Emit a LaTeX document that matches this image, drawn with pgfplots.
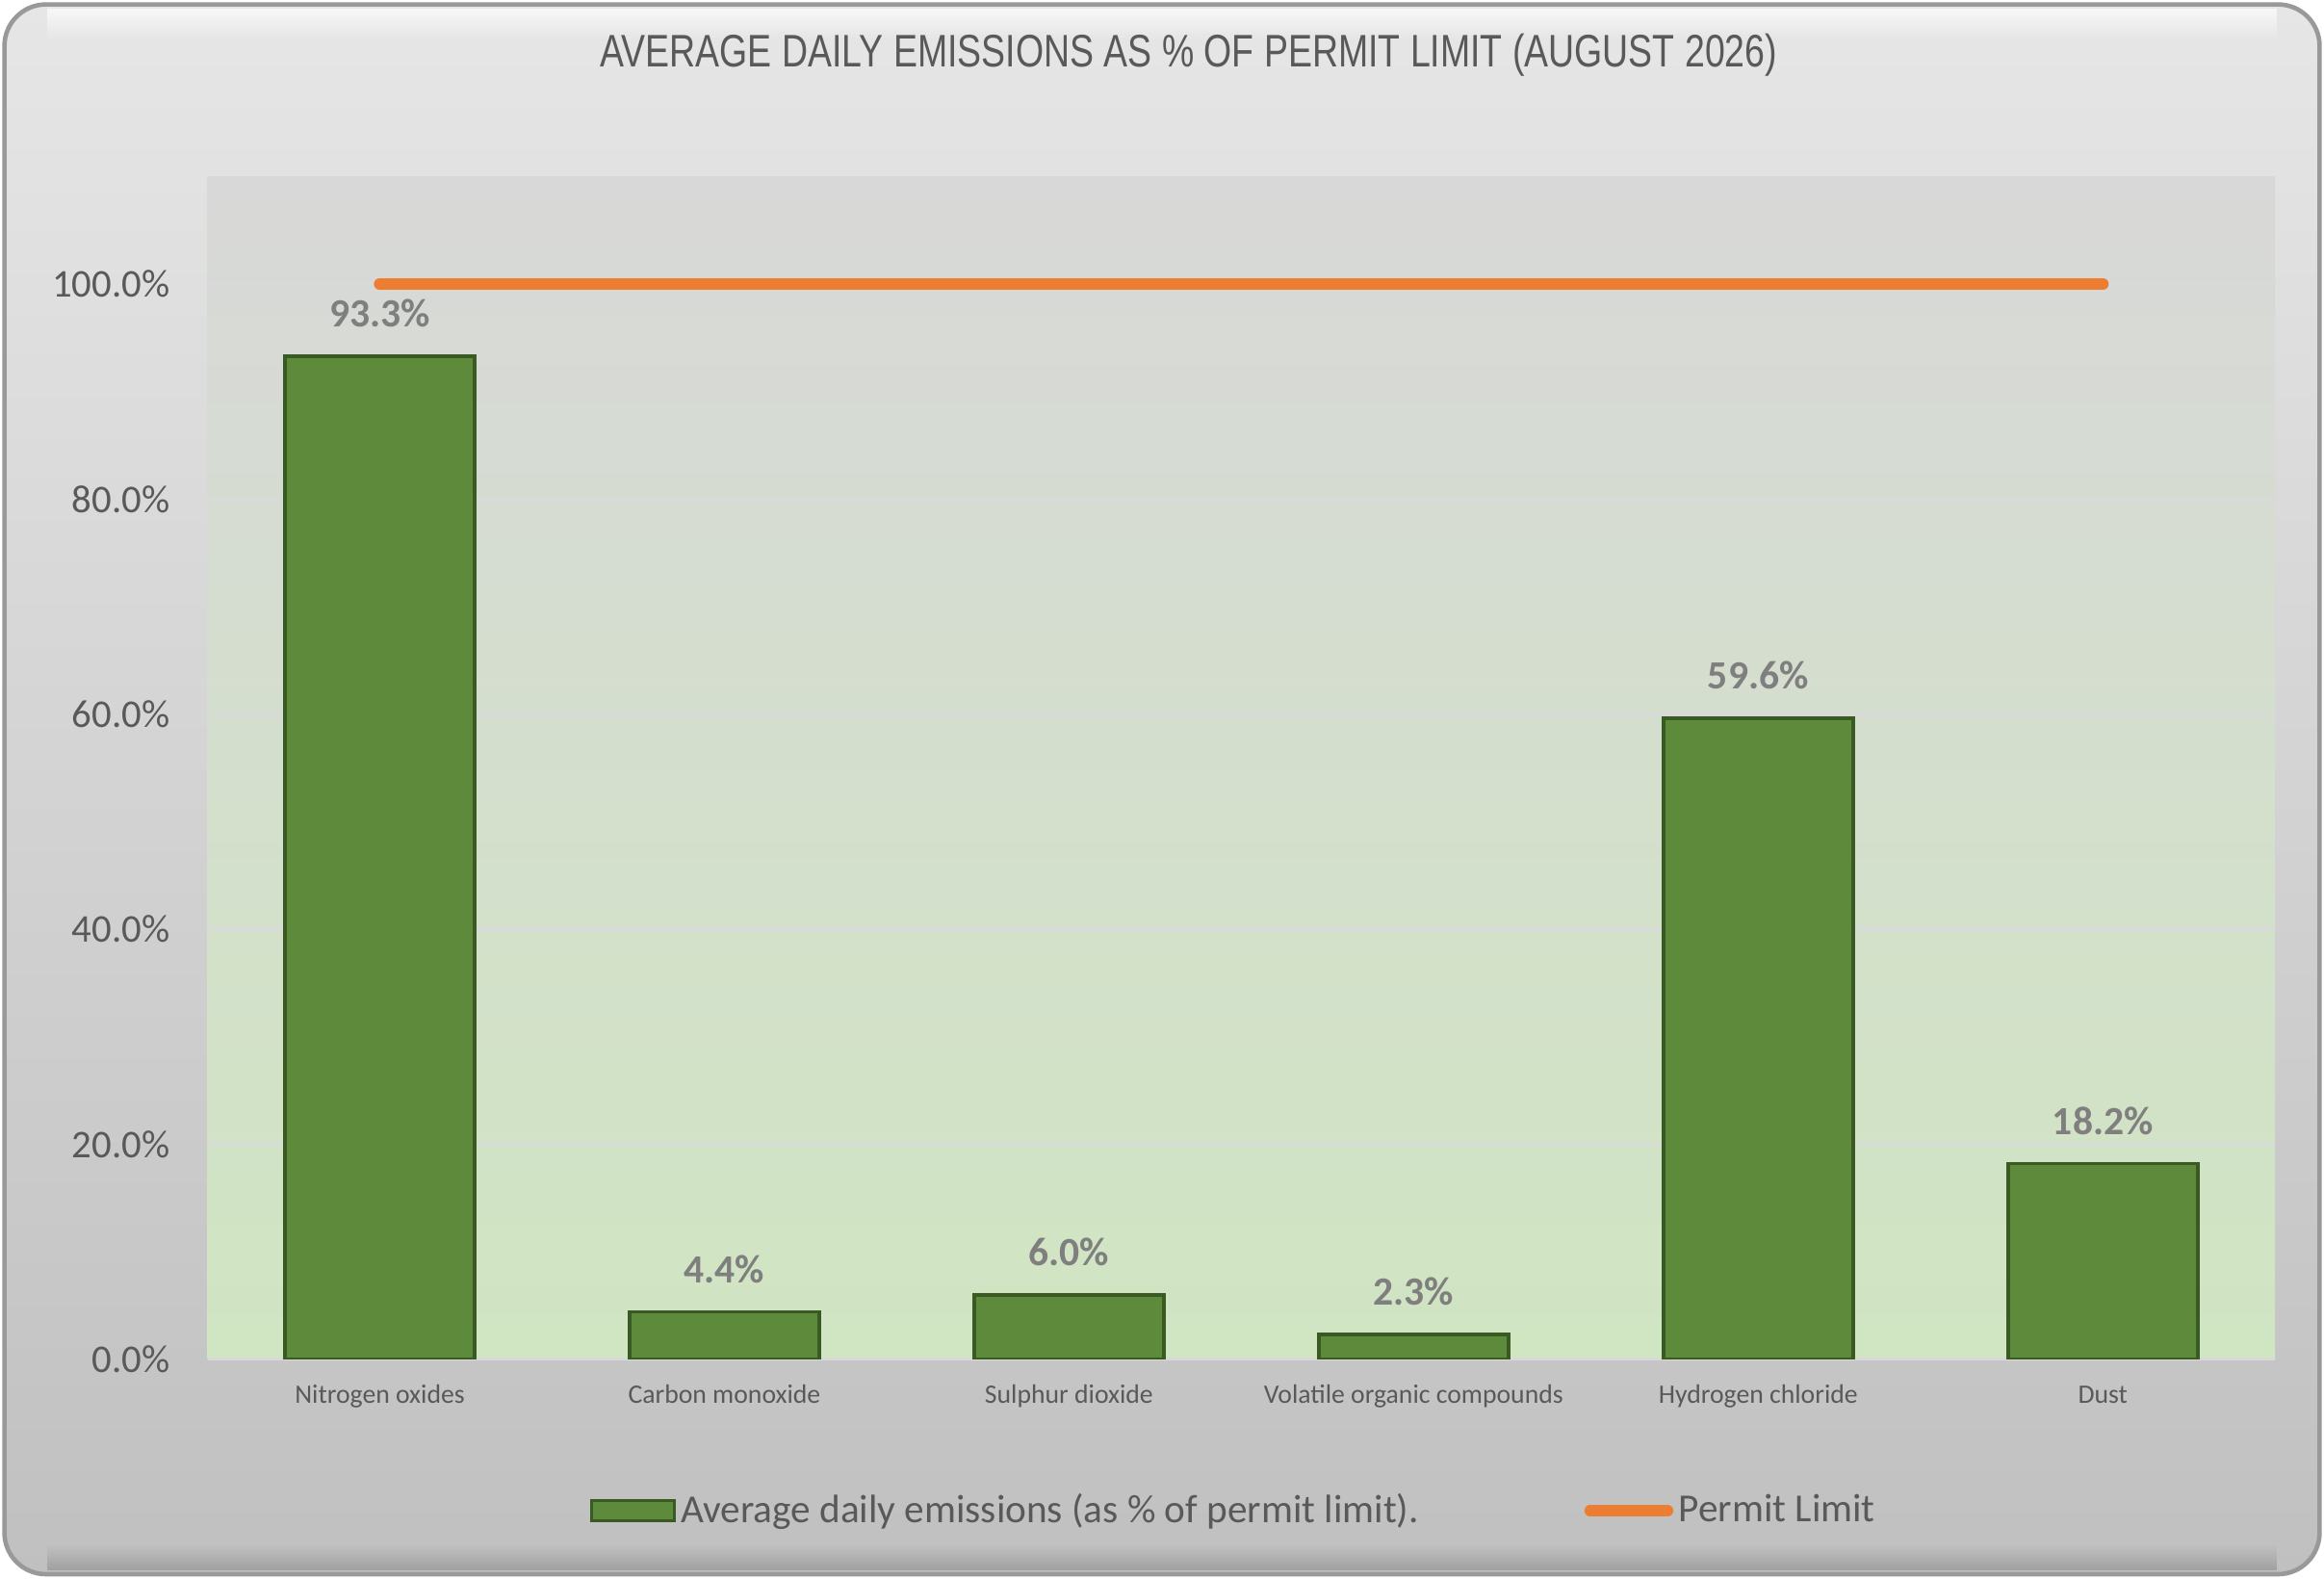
\documentclass[border=0pt]{standalone}
\usepackage{fontspec}
\setmainfont{Carlito}
\newfontfamily\titlefont[FakeStretch=0.79]{Liberation Sans}
\usepackage{pgfplots}
\pgfplotsset{compat=1.18}

\definecolor{bargreen}{RGB}{94,139,59}
\definecolor{bardark}{RGB}{58,90,36}
\definecolor{limitorange}{RGB}{237,125,49}
\definecolor{txtgray}{RGB}{89,89,89}
\definecolor{lblgray}{RGB}{127,127,127}
\definecolor{gridgray}{RGB}{217,217,217}
\definecolor{frametop}{RGB}{230,230,230}
\definecolor{framebot}{RGB}{192,192,192}
\definecolor{plottop}{RGB}{216,216,216}
\definecolor{plotmid}{RGB}{226,238,218}
\definecolor{plotbot}{RGB}{208,229,194}

\begin{document}
\begin{tikzpicture}
% page and chart frame
\fill[white] (0pt,0pt) rectangle (784pt,-532.5pt);
\draw[rounded corners=14pt, top color=frametop, bottom color=framebot,
      draw=black!40, line width=1.5pt]
  (1.5pt,-1.5pt) rectangle (782.5pt,-531pt);
\shade[top color=white, bottom color=frametop, opacity=0.7]
  (16pt,-3pt) rectangle (768pt,-13pt);
\shade[top color=framebot, bottom color=black!45, opacity=0.6]
  (16pt,-521pt) rectangle (768pt,-529.5pt);

\node[font=\titlefont\fontsize{15.4}{18}\selectfont, text=txtgray]
  at (401pt,-18.5pt) {AVERAGE DAILY EMISSIONS AS \% OF PERMIT LIMIT (AUGUST 2026)};

\begin{axis}[
  at={(70pt,-458.5pt)}, anchor=south west,
  scale only axis,
  width=697.5pt, height=399pt,
  xmin=-0.5, xmax=5.5,
  ymin=0, ymax=110,
  axis background/.style={top color=plottop, middle color=plotmid, bottom color=plotbot},
  axis line style={draw=none},
  major tick length=0pt,
  ymajorgrids,
  major grid style={gridgray, line width=1pt},
  ytick={0,20,40,60,80,100},
  yticklabels={0.0\%,20.0\%,40.0\%,60.0\%,80.0\%,100.0\%},
  y tick label style={font=\fontsize{13.25}{15}\selectfont, text=txtgray,
                      inner sep=0pt, xshift=-12.5pt},
  xtick={0,1,2,3,4,5},
  xticklabels={Nitrogen oxides,Carbon monoxide,Sulphur dioxide,Volatile organic compounds,Hydrogen chloride,Dust},
  x tick label style={font=\fontsize{9}{11}\selectfont, text=txtgray,
                      inner sep=0pt, anchor=north, text height=6.5pt, text depth=2pt,
                      yshift=-8pt},
  legend style={at={(0.497,-0.128)}, anchor=center, draw=none, fill=none,
                legend columns=2,
                font=\fontsize{13.4}{16}\selectfont, text=txtgray,
                nodes={inner sep=1.8pt},
                /tikz/every even column/.append style={column sep=54pt}},
]
\addplot[ybar, bar width=0.55, bar shift=0pt,
  fill=bargreen, draw=bardark, line width=1.2pt,
  point meta=explicit symbolic,
  nodes near coords,
  every node near coord/.append style={font=\bfseries\fontsize{13.5}{16}\selectfont,
     text=lblgray, anchor=center, yshift=14.5pt},
  legend image code/.code={\draw[fill=bargreen, draw=bardark, line width=1pt]
     (0pt,-3.5pt) rectangle (28pt,3.5pt);}]
  coordinates {
    (0,93.3) [93.3\%]
    (1,4.4) [4.4\%]
    (2,6.0) [6.0\%]
    (3,2.3) [2.3\%]
    (4,59.6) [59.6\%]
    (5,18.2) [18.2\%]
  };
\addlegendentry{Average daily emissions (as \% of permit limit).}
\addplot[limitorange, line width=4pt, line cap=round, mark=none,
  legend image code/.code={\draw[limitorange, line width=4pt, line cap=round]
     (2pt,0pt) -- (28pt,0pt);}]
  coordinates {
    (0,100) (1,100) (2,100) (3,100) (4,100) (5,100)
  };
\addlegendentry{Permit Limit}
\end{axis}
\end{tikzpicture}
\end{document}
